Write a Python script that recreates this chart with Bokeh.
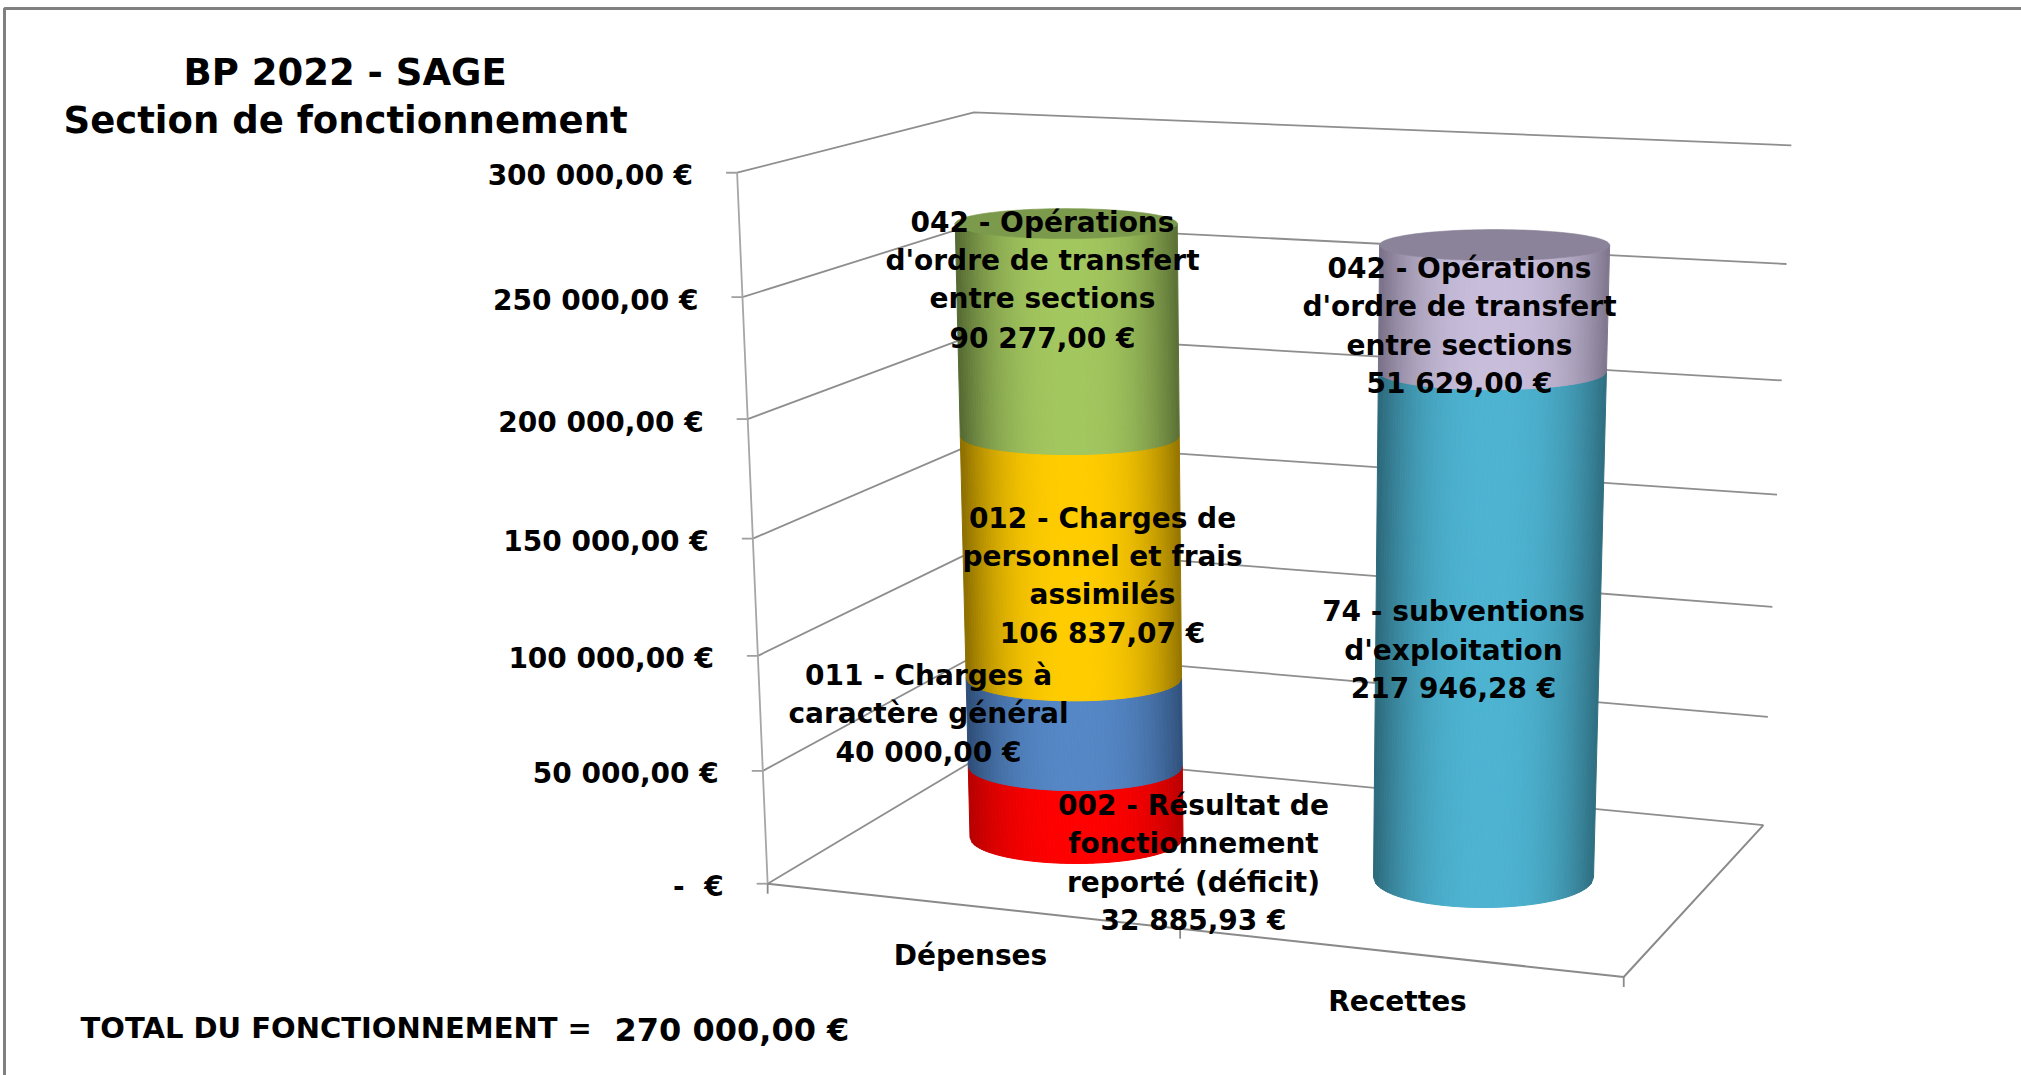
import numpy as np
from bokeh.plotting import figure
from bokeh.models import Range1d
from bokeh.core.properties import value
from bokeh.embed import file_html
from bokeh.resources import INLINE

# ---------- data ----------
categories = ["Dépenses", "Recettes"]
depenses_values = [32885.93, 40000.00, 106837.07, 90277.00]
recettes_values = [217946.28, 51629.00]
depenses_labels = [
    ["002 - Résultat de", "fonctionnement", "reporté (déficit)", "32 885,93 €"],
    ["011 - Charges à", "caractère général", "40 000,00 €"],
    ["012 - Charges de", "personnel et frais", "assimilés", "106 837,07 €"],
    ["042 - Opérations", "d'ordre de transfert", "entre sections", "90 277,00 €"],
]
recettes_labels = [
    ["74 - subventions", "d'exploitation", "217 946,28 €"],
    ["042 - Opérations", "d'ordre de transfert", "entre sections", "51 629,00 €"],
]
tick_values = [0, 50000, 100000, 150000, 200000, 250000, 300000]
tick_labels = ["-\u00a0\u00a0€", "50 000,00 €", "100 000,00 €", "150 000,00 €",
               "200 000,00 €", "250 000,00 €", "300 000,00 €"]
title_lines = ["BP 2022 - SAGE", "Section de fonctionnement"]
total_label = "TOTAL DU FONCTIONNEMENT ="
total_value = "270 000,00 €"

# ---------- style ----------
FONT = value("DejaVu Sans")
W, H = 2021, 1075
depenses_colors = [
    ("#FF0000", "#B80000", "#FF0000"),
    ("#5587C6", "#2F4E78", "#5587C6"),
    ("#FFCC00", "#8E7000", "#FFCC00"),
    ("#A3C75F", "#566B33", "#7C9A4C"),
]
recettes_colors = [
    ("#4DB3D1", "#2D6A7C", "#4DB3D1"),
    ("#C8BEDB", "#7B7289", "#8B8399"),
]

# ---------- 3D projection fitted to the chart box ----------
MAX_VALUE = max(tick_values)
box = [
    ((0, 0, 0), (767, 883)), ((0, 0, 1), (737, 172)),
    ((0, 1, 0), (989, 751)), ((0, 1, 1), (973, 112)),
    ((1, 1, 0), (1763, 824)), ((1, 1, 1), (1791, 145)),
    ((1, 0, 0), (1623, 977)),
]
rows = []
for (u, v, w), (sx, sy) in box:
    rows.append([u, v, w, 1, 0, 0, 0, 0, -sx*u, -sx*v, -sx*w, -sx])
    rows.append([0, 0, 0, 0, u, v, w, 1, -sy*u, -sy*v, -sy*w, -sy])
P = np.linalg.svd(np.array(rows, float))[2][-1].reshape(3, 4)


def proj(u, v, val):
    q = P @ np.array([u, v, val / MAX_VALUE, 1.0])
    return q[0] / q[2], q[1] / q[2]


def floor_uv(sx, sy):
    q = np.linalg.solve(P[:, [0, 1, 3]], np.array([sx, sy, 1.0]))
    return q[0] / q[2], q[1] / q[2]


def mix(c1, c2, f):
    a = [int(c1[i:i+2], 16) for i in (1, 3, 5)]
    b = [int(c2[i:i+2], 16) for i in (1, 3, 5)]
    return "#%02x%02x%02x" % tuple(int(round(x + (y - x) * f)) for x, y in zip(a, b))


p = figure(width=W, height=H, x_range=Range1d(0, W), y_range=Range1d(H, 0),
           output_backend="svg", toolbar_location=None, min_border=0,
           outline_line_color=None, x_axis_type=None, y_axis_type=None,
           background_fill_color="white", border_fill_color="white")
p.xgrid.visible = False
p.ygrid.visible = False

# outer frame
p.line([4, 4, W], [H, 8, 8], line_color="#808080", line_width=3)

# walls: gridlines
GRID = "#8E8E8E"
for t in tick_values:
    a, b, c = proj(0, 0, t), proj(0, 1, t), proj(1, 1, t)
    p.line([a[0], b[0], c[0]], [a[1], b[1], c[1]], line_color=GRID, line_width=1.8)
    p.line([a[0] - 11, a[0]], [a[1], a[1]], line_color="#A0A0A0", line_width=1.8)

# value axis
a, b = proj(0, 0, 0), proj(0, 0, MAX_VALUE)
p.line([a[0], b[0]], [a[1], b[1]], line_color="#A6A6A6", line_width=1.8)

# floor front and right edges, category ticks
f0, f1, f2 = proj(0, 0, 0), proj(1, 0, 0), proj(1, 1, 0)
p.line([f0[0], f1[0], f2[0]], [f0[1], f1[1], f2[1]], line_color="#8A8A8A", line_width=2)
for k in range(len(categories) + 1):
    q = proj(k / len(categories), 0, 0)
    p.line([q[0], q[0]], [q[1], q[1] + 10], line_color="#8A8A8A", line_width=1.8)


def cylinder(values, colors, base, a_rng, b_rng):
    uc, vc = floor_uv(*base)
    total = sum(values)

    def ring(val):
        f = val / total
        cx, cy = proj(uc, vc, val)
        return cx, cy, a_rng[0] + (a_rng[1] - a_rng[0]) * f, b_rng[0] + (b_rng[1] - b_rng[0]) * f

    ts = np.linspace(-1, 1, 91)
    start = 0.0
    for val, (light, dark, cap) in zip(values, colors):
        end = start + val
        r0, r1 = ring(start), ring(end)
        xs, ys, cols = [], [], []
        for t0, t1 in zip(ts[:-1], ts[1:]):
            tm = abs((t0 + t1) / 2 - 0.02)
            f = 1 - min(tm, 1) ** 2.6
            y0a, y0b = np.sqrt(max(1 - t0*t0, 0)), np.sqrt(max(1 - t1*t1, 0))
            xs.append([r0[0] + r0[2]*t0, r0[0] + r0[2]*t1, r1[0] + r1[2]*t1, r1[0] + r1[2]*t0])
            ys.append([r0[1] + r0[3]*y0a, r0[1] + r0[3]*y0b, r1[1] + r1[3]*y0b, r1[1] + r1[3]*y0a])
            cols.append(mix(dark, light, f))
        p.patches(xs, ys, fill_color=cols, line_color=cols, line_width=1.0)
        start = end
    cx, cy, ca, cb = ring(total)
    th = np.linspace(0, 2*np.pi, 121)
    p.patch(cx + ca*np.cos(th), cy + cb*np.sin(th), fill_color=colors[-1][2], line_color=colors[-1][2], line_width=0.6)


cylinder(depenses_values, depenses_colors, (1076, 837), (106.5, 111), (26, 15))
cylinder(recettes_values, recettes_colors, (1483, 877), (110, 115), (30, 15.5))


def label(lines, x, ys, size="28px", align="center"):
    p.text(x=[x] * len(lines), y=ys, text=lines, text_font=FONT, text_font_style="bold",
           text_font_size=size, text_align=align, text_baseline="middle", text_color="black")


# data labels
label(depenses_labels[0], 1193, [805, 843, 882, 920])
label(depenses_labels[1], 928, [675, 713, 752])
label(depenses_labels[2], 1102, [518, 556, 594, 633])
label(depenses_labels[3], 1042, [222, 260, 298, 338])
label(recettes_labels[0], 1453, [611, 650, 688])
label(recettes_labels[1], 1459, [268, 306, 345, 383])

# axis labels
for t, s in zip(tick_values, tick_labels):
    q = proj(0, 0, t)
    label([s], q[0] - 44, [q[1] + 3], align="right")
label([categories[0]], 970, [955])
label([categories[1]], 1397, [1001])

# titles
label([title_lines[0]], 183, [72], size="37px", align="left")
label([title_lines[1]], 63, [120], size="37px", align="left")
label([total_label], 80, [1027], size="29px", align="left")
label([total_value], 614, [1029], size="32px", align="left")

open("out.html", "w").write(file_html(p, INLINE))
